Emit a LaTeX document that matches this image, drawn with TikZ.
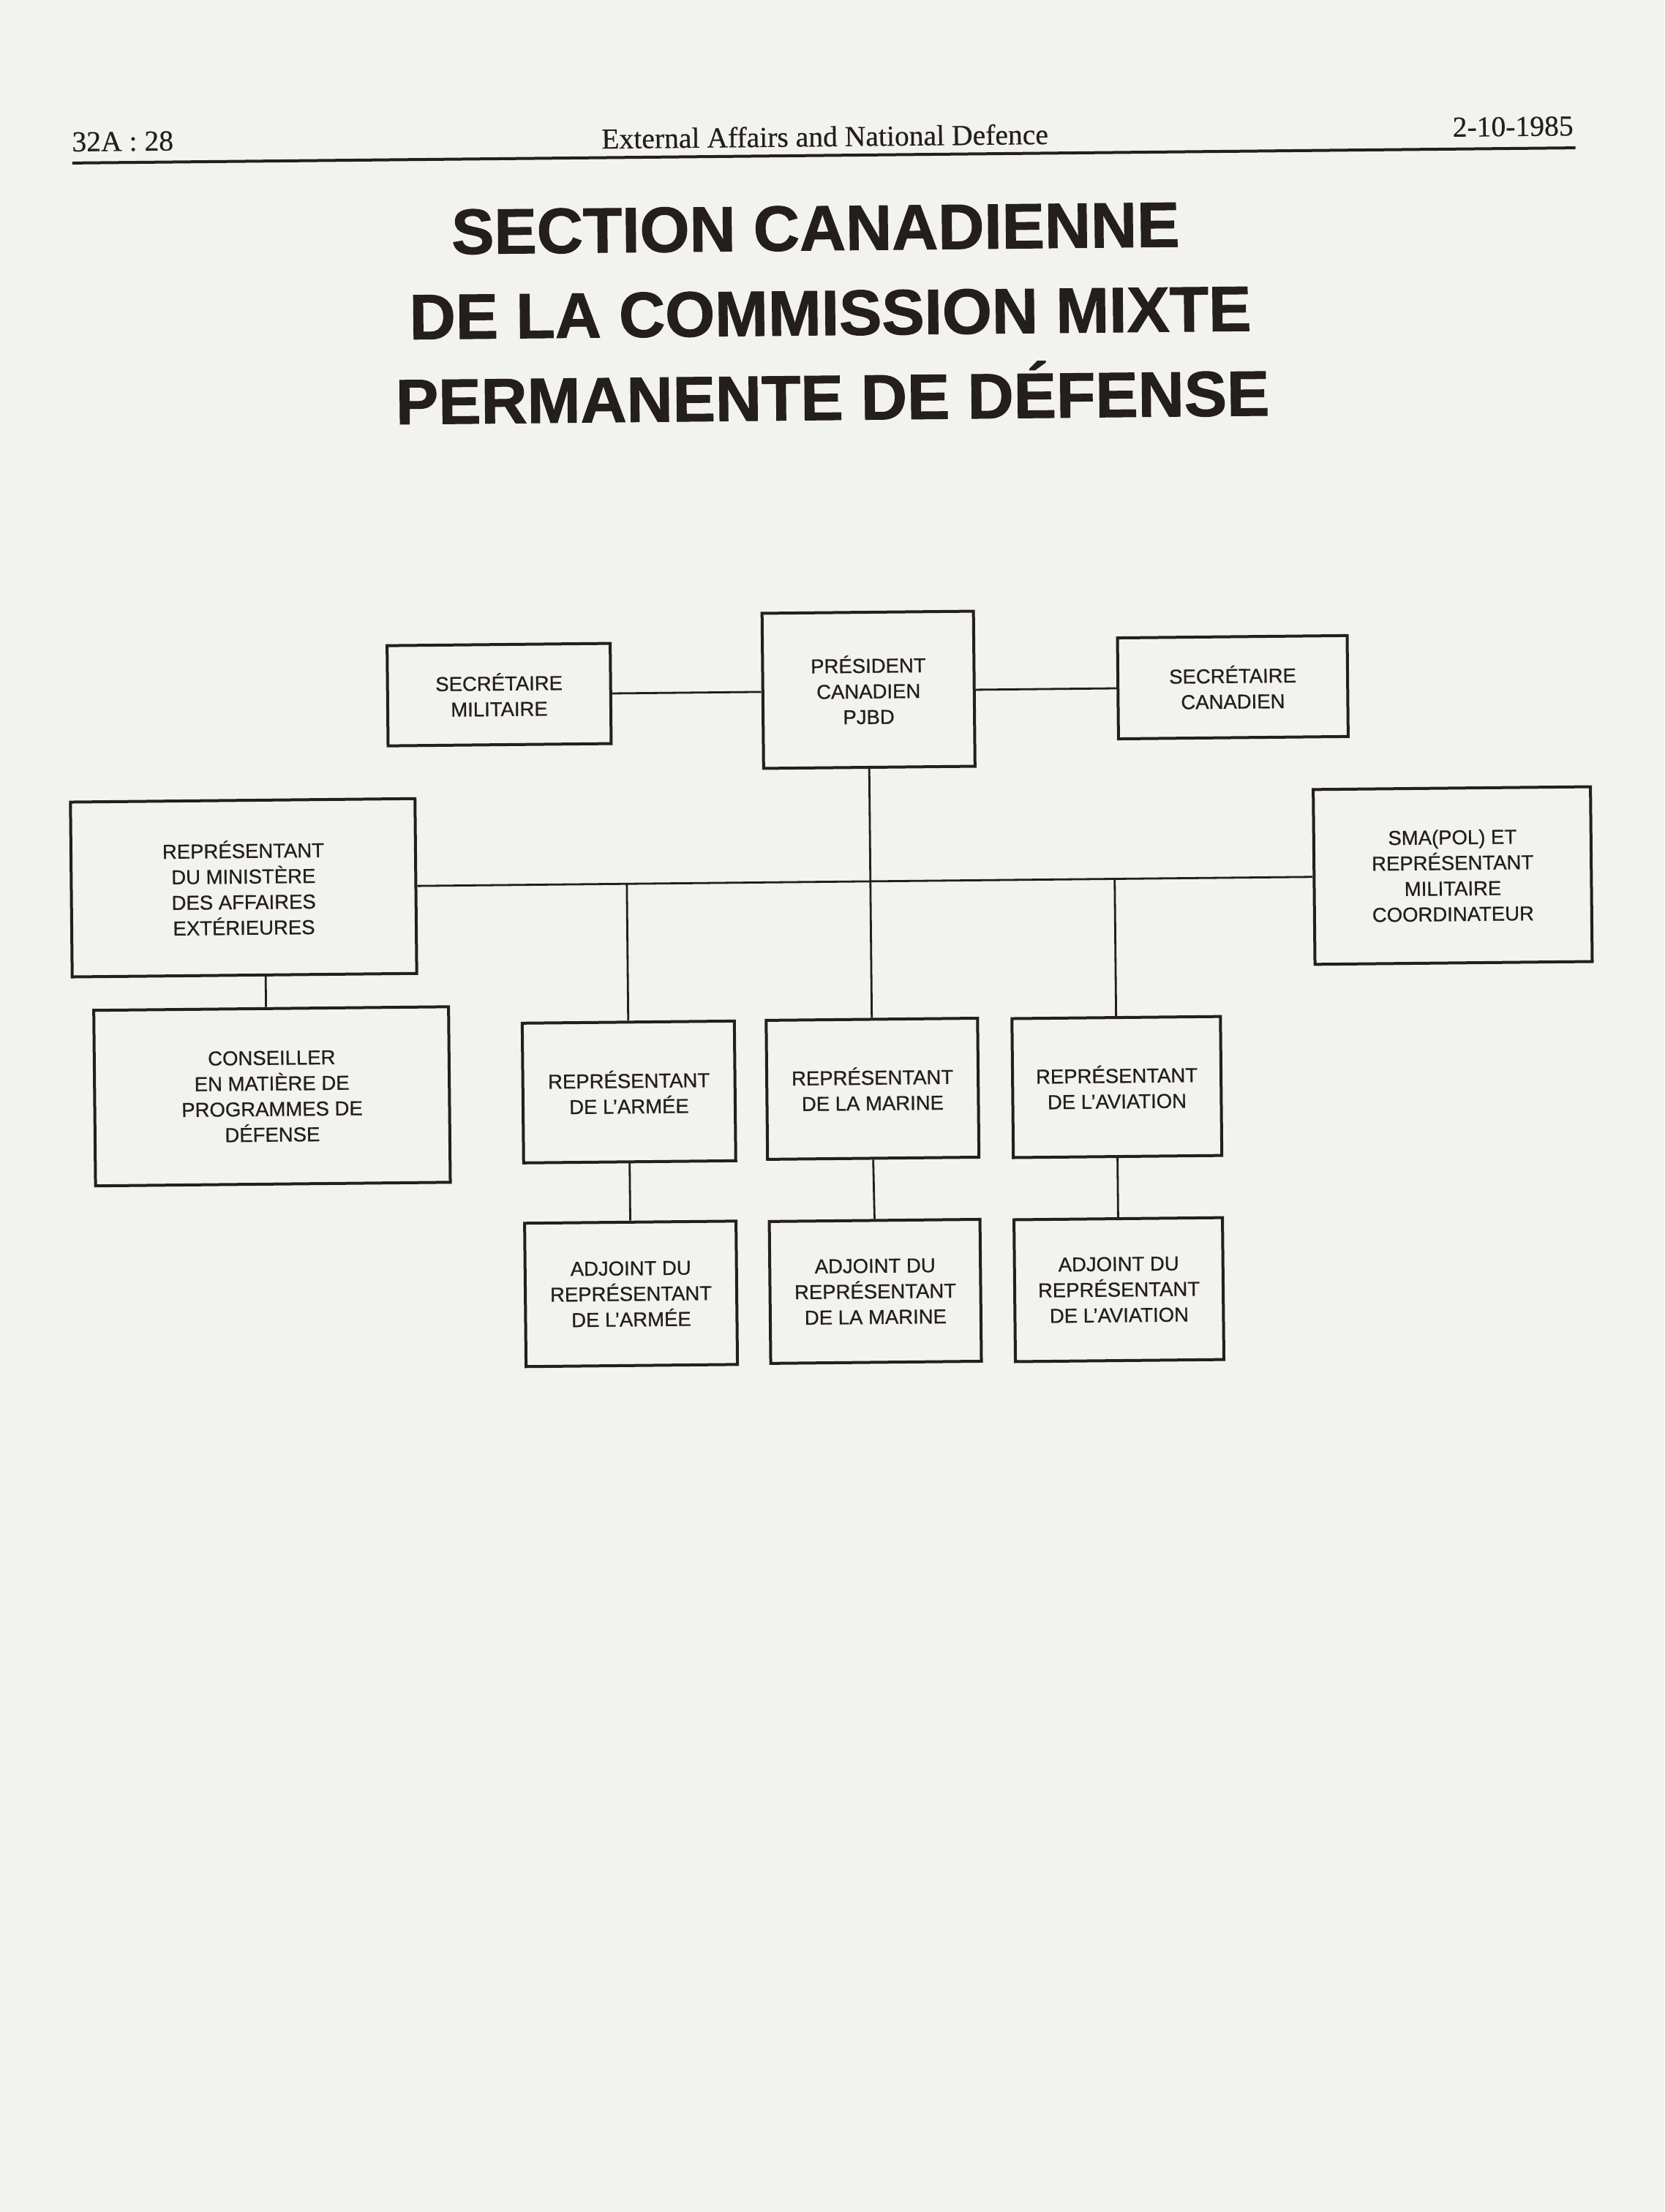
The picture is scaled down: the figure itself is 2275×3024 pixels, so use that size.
\documentclass[tikz,border=0pt]{standalone}
\usepackage{fontspec}
\setmainfont{Liberation Sans}
\newfontfamily\headserif{Liberation Serif}[FakeBold=0.4]
\newfontfamily\titlefont{Liberation Sans}[BoldFeatures={FakeBold=1.2}]
\newfontfamily\boxfont{Liberation Sans}[FakeBold=0.7]
\definecolor{paper}{RGB}{242,242,240}
\definecolor{ink}{RGB}{36,30,30}
\tikzset{
  orgbox/.style 2 args={draw=ink, line width=1pt, align=center, inner sep=0pt,
    text=ink, font=\boxfont\fontsize{6.875pt}{8.75pt}\selectfont,
    minimum width=#1*0.25pt, minimum height=#2*0.25pt},
  conn/.style={draw=ink, line width=0.7pt},
  headtext/.style={inner sep=0pt, text=ink, font=\headserif\fontsize{9.9pt}{12pt}\selectfont},
  titletext/.style={inner sep=0pt, text=ink, font=\titlefont\fontsize{21.85pt}{26pt}\selectfont\bfseries}
}
\begin{document}
\begin{tikzpicture}[x=0.25pt,y=-0.25pt]
\fill[paper] (0,0) rectangle (2275,3024);
\useasboundingbox (0,0) rectangle (2275,3024);
\begin{scope}[rotate around={0.58:(1137,1512)}, transform shape]
  % header
  \node[headtext, anchor=base west] (pg) at (111,196.5) {32A : 28};
  \node[headtext, anchor=base] (hd) at (1141,200) {External Affairs and National Defence};
  \node[headtext, anchor=base east] (dt) at (2165,195.5) {2-10-1985};
  \coordinate (rl) at (112,212.4);
  \coordinate (rr) at (2167,212.4);
  \draw[draw=ink, line width=1pt] (rl) -- (rr);
  % title
  \node[titletext, anchor=base] (t1) at (1127,342) {SECTION CANADIENNE};
  \node[titletext, anchor=base] (t2) at (1146,458) {DE LA COMMISSION MIXTE};
  \node[titletext, anchor=base] (t3) at (1148,574) {PERMANENTE DE DÉFENSE};
  % boxes
  \node[orgbox={305}{137}] (sm) at (688,945) {SECRÉTAIRE\\MILITAIRE};
  \node[orgbox={289}{212}] (pres) at (1193,943.5) {PRÉSIDENT\\CANADIEN\\PJBD};
  \node[orgbox={314}{138}] (sc) at (1691,945) {SECRÉTAIRE\\CANADIEN};
  \node[orgbox={471}{239}] (rm) at (336,1205.5) {REPRÉSENTANT\\DU MINISTÈRE\\DES AFFAIRES\\EXTÉRIEURES};
  \node[orgbox={379}{239}] (sma) at (1989,1205.5) {SMA(POL) ET\\REPRÉSENTANT\\MILITAIRE\\COORDINATEUR};
  \node[orgbox={485}{240}] (cons) at (372,1491) {CONSEILLER\\EN MATIÈRE DE\\PROGRAMMES DE\\DÉFENSE};
  \node[orgbox={290}{191}] (ra) at (860,1490) {REPRÉSENTANT\\DE L’ARMÉE};
  \node[orgbox={289}{190}] (rmar) at (1193,1489) {REPRÉSENTANT\\DE LA MARINE};
  \node[orgbox={285}{190}] (rav) at (1527,1490) {REPRÉSENTANT\\DE L’AVIATION};
  \node[orgbox={289}{196}] (aa) at (860,1766) {ADJOINT DU\\REPRÉSENTANT\\DE L’ARMÉE};
  \node[orgbox={288}{194}] (amar) at (1194,1766) {ADJOINT DU\\REPRÉSENTANT\\DE LA MARINE};
  \node[orgbox={285}{194}] (aav) at (1527,1767) {ADJOINT DU\\REPRÉSENTANT\\DE L’AVIATION};
  % connectors
  \draw[conn] (sm.east) -- (sm.east -| pres.west);
  \draw[conn] (pres.east |- sc.west) -- (sc.west);
  \draw[conn] (pres.south) -- (rmar.north);
  \draw[conn] (rm.east) -- (sma.west);
  \draw[conn] (ra.north |- rm.east) -- (ra.north);
  \draw[conn] (rav.north |- rm.east) -- (rav.north);
  \coordinate (kx) at (365,0);
  \draw[conn] (rm.south -| kx) -- (cons.north -| kx);
  \draw[conn] (ra.south) -- (aa.north);
  \draw[conn] (rmar.south) -- (amar.north);
  \draw[conn] (rav.south) -- (aav.north);
\end{scope}
\end{tikzpicture}
\end{document}
